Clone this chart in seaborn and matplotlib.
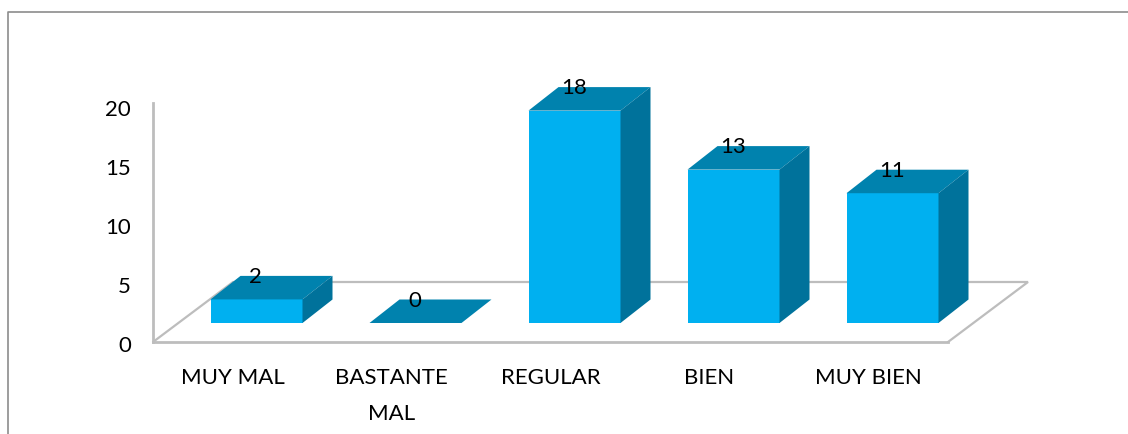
import matplotlib
matplotlib.use("Agg")
import matplotlib.pyplot as plt
from matplotlib.lines import Line2D
from matplotlib.patches import Polygon
from matplotlib.transforms import ScaledTranslation
import pandas as pd
import seaborn as sns

categories = ["MUY MAL", "BASTANTE\nMAL", "REGULAR", "BIEN", "MUY BIEN"]
values = [2, 0, 18, 13, 11]
y_ticks = [0, 5, 10, 15, 20]

W, H = 1128, 434
FRONT, TOP, SIDE = "#00B0F0", "#0082AE", "#00729B"
GRID = "#BDBDBD"
FRAME = "#8C8C8C"

sns.set_theme(style="white")
plt.rcParams["font.family"] = ["Lato", "DejaVu Sans"]

fig = plt.figure(figsize=(W / 100, H / 100), dpi=100, facecolor="white")
ax = fig.add_axes([153 / W, (H - 342) / H, (948 - 153) / W, 239 / H])
ax.patch.set_alpha(0)

df = pd.DataFrame({"cat": categories, "val": values})
base = 19 / 11.8
depth_y = 23.5 / 11.8
depth_x = 30 / 159
floor_x = 80 / 159
floor_y = 60 / 11.8
offset = 24 / 159
width = 92 / 159

sns.barplot(data=df, x="cat", y="val", order=categories, color=FRONT, saturation=1,
            width=width, bottom=base, ax=ax, errorbar=None, linewidth=0, zorder=3)
ax.set_xlim(-0.5, 4.5)
ax.set_ylim(0, 239 / 11.8)

for bar, v in zip(ax.patches, values):
    bar.set_x(bar.get_x() + offset)
    x0, x1 = bar.get_x(), bar.get_x() + bar.get_width()
    y0, y1 = base, base + v
    ax.add_patch(Polygon([(x0, y1), (x1, y1), (x1 + depth_x, y1 + depth_y), (x0 + depth_x, y1 + depth_y)],
                         closed=True, fc=TOP, ec="none", zorder=3, clip_on=False))
    if v > 0:
        ax.add_patch(Polygon([(x1, y0), (x1, y1), (x1 + depth_x, y1 + depth_y), (x1 + depth_x, y0 + depth_y)],
                             closed=True, fc=SIDE, ec="none", zorder=3, clip_on=False))
    ax.text((x0 + x1) / 2 - 0.005, y1 + depth_y - 0.1, str(v), ha="center", va="center",
            fontsize=16, color="black", zorder=5)

# floor of the 3D box
ax.plot([-0.5, -0.5 + floor_x, 4.5 + floor_x, 4.5], [0, floor_y, floor_y, 0],
        color=GRID, lw=1.6, clip_on=False, zorder=1, solid_joinstyle="miter")

for s in ["top", "right"]:
    ax.spines[s].set_visible(False)
for s in ["left", "bottom"]:
    ax.spines[s].set_color(GRID)
    ax.spines[s].set_linewidth(2)

ax.set_xlabel("")
ax.set_ylabel("")
ax.set_yticks(y_ticks)
ax.set_xticks(range(len(categories)))
ax.set_xticklabels(categories, linespacing=1.95)
ax.tick_params(axis="x", length=0, pad=19, labelsize=16, labelcolor="black")
ax.tick_params(axis="y", length=0, pad=16, labelsize=16, labelcolor="black")
shift = ScaledTranslation(0, -2 / 100, fig.dpi_scale_trans)
for lab in ax.get_yticklabels():
    lab.set_transform(lab.get_transform() + shift)

# outer chart frame, cut by the image edges
fig.add_artist(Line2D([7.5 / W, 7.5 / W, 1], [0, (H - 11.5) / H, (H - 11.5) / H],
                      color=FRAME, lw=1.2, transform=fig.transFigure))

fig.savefig("out.png", dpi=100, facecolor="white")
